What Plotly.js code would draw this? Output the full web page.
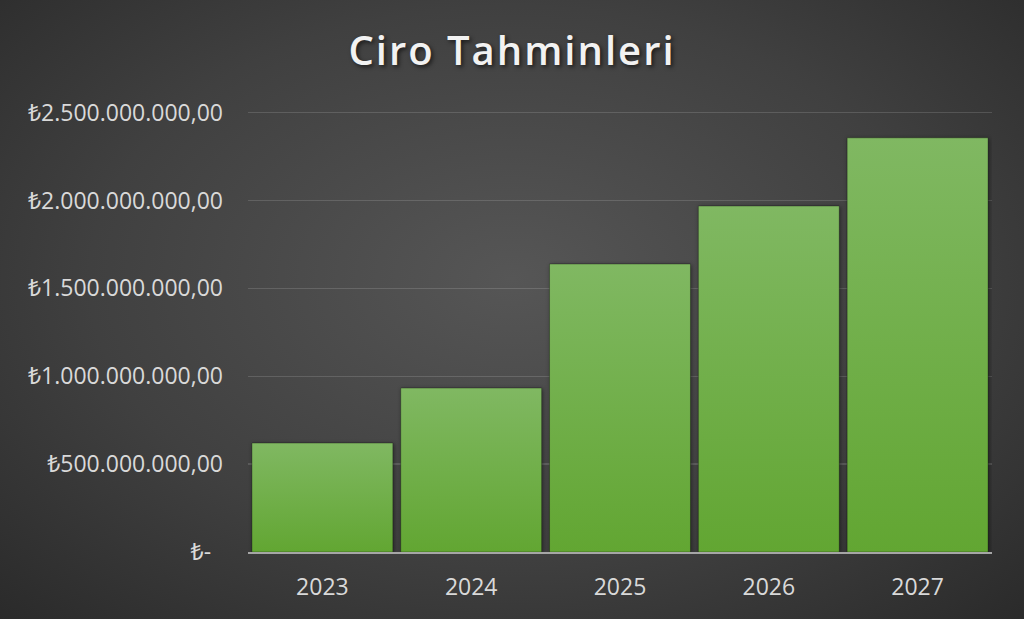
<!DOCTYPE html>
<html><head><meta charset="utf-8">
<script src="https://cdn.plot.ly/plotly-3.0.1.min.js"></script>
<style>
html,body{margin:0;padding:0;}
body{width:1024px;height:619px;overflow:hidden;background:radial-gradient(ellipse 75% 80% at 50% 45%, #565656 0%, #404040 55%, #282828 100%);}
#chart{width:1024px;height:619px;}
</style></head><body>
<div id="chart"></div>
<script>
const years = ["2023","2024","2025","2026","2027"];
const revenue = [620000000, 933000000, 1639000000, 1969000000, 2357000000];
const tickValues = [0, 500000000, 1000000000, 1500000000, 2000000000, 2500000000];
const tickLabels = ["₺-\u00a0\u00a0", "₺500.000.000,00", "₺1.000.000.000,00", "₺1.500.000.000,00", "₺2.000.000.000,00", "₺2.500.000.000,00"];

const tickFont = {family: "Open Sans, Noto Sans, DejaVu Sans, sans-serif", size: 23, color: "#d9d9d9"};
const data = [{
  type: "bar", x: years, y: revenue,
  marker: {color: "#70ad47", line: {color: "rgba(0,0,0,0.3)", width: 1}},
  hoverinfo: "none"
}];
const layout = {
  width: 1024, height: 619,
  paper_bgcolor: "rgba(0,0,0,0)", plot_bgcolor: "rgba(0,0,0,0)",
  margin: {l: 248, r: 32, t: 109, b: 67},
  bargap: 0.053,
  title: {text: "Ciro Tahminleri", x: 0.5, xanchor: "center", y: 0.918, yanchor: "middle",
    font: {family: "Open Sans, Noto Sans, sans-serif", size: 40, weight: 600, color: "#f2f2f2", shadow: "2px 2px 4px rgba(0,0,0,0.6)"}},
  xaxis: {type: "category", tickfont: tickFont, showgrid: false, showline: true, linecolor: "#a6a6a6", linewidth: 2,
    ticks: "", ticklabelstandoff: 13},
  yaxis: {range: [0, 2521000000], tickvals: tickValues, ticktext: tickLabels, tickfont: tickFont,
    showgrid: true, gridcolor: "rgba(255,255,255,0.14)", gridwidth: 1.5, zeroline: false, showline: false,
    ticks: "", ticklabelstandoff: 24},
  showlegend: false
};
Plotly.newPlot("chart", data, layout, {displayModeBar: false, staticPlot: true}).then(function(gd){
  const svg = gd.querySelector(".main-svg");
  const ns = "http://www.w3.org/2000/svg";
  let defs = svg.querySelector("defs");
  const lg = document.createElementNS(ns, "linearGradient");
  lg.setAttribute("id", "barGrad"); lg.setAttribute("x1","0"); lg.setAttribute("y1","0"); lg.setAttribute("x2","0"); lg.setAttribute("y2","1");
  [["0%","#80b862"],["100%","#62a632"]].forEach(function(s){
    const st = document.createElementNS(ns, "stop"); st.setAttribute("offset", s[0]); st.setAttribute("stop-color", s[1]); lg.appendChild(st);
  });
  defs.appendChild(lg);
  gd.querySelectorAll(".bars .point path").forEach(function(p){ p.style.fill = "url(#barGrad)"; p.style.filter = "drop-shadow(1px 1px 2px rgba(0,0,0,0.45))"; });
  const t = gd.querySelector(".gtitle"); if (t) t.style.letterSpacing = "2px";
});
</script>
</body></html>
